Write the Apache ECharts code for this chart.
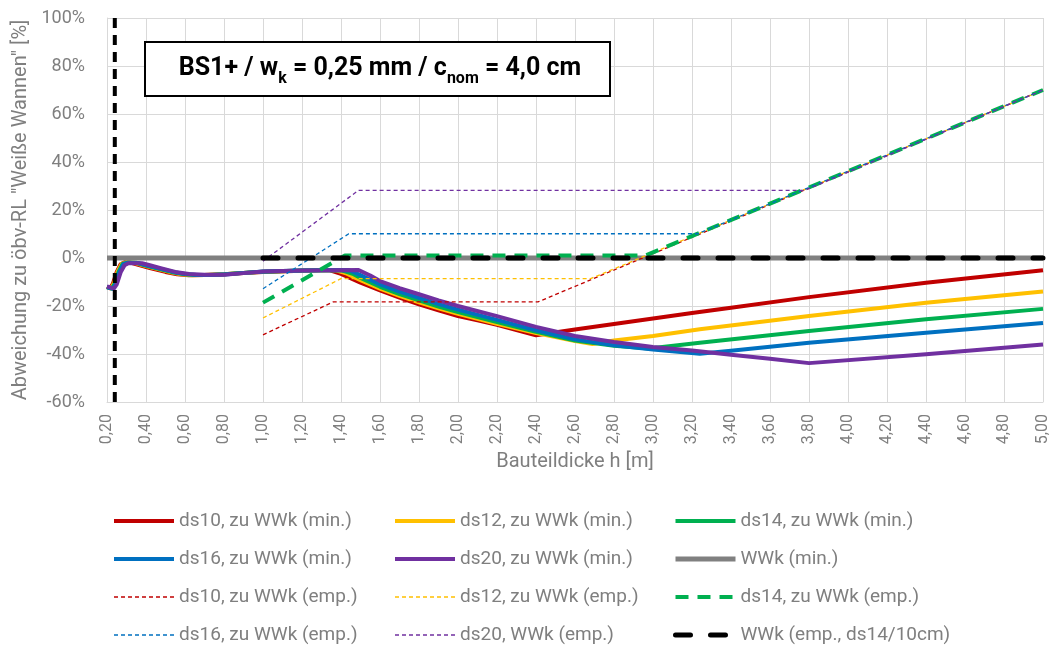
<!DOCTYPE html>
<html>
<head>
<meta charset="utf-8">
<script src="https://cdn.jsdelivr.net/npm/echarts@6/dist/echarts.min.js"></script>
<style>
  html, body { margin: 0; padding: 0; background: #ffffff; }
  #chart { width: 1052px; height: 648px; }
</style>
</head>
<body>
<div id="chart"></div>
<script>
// Axis ticks: Bauteildicke h [m] and deviation [%]
const xTicks = [0.2, 0.4, 0.6, 0.8, 1.0, 1.2, 1.4, 1.6, 1.8, 2.0, 2.2, 2.4, 2.6, 2.8, 3.0, 3.2, 3.4, 3.6, 3.8, 4.0, 4.2, 4.4, 4.6, 4.8, 5.0];
const yTicks = [-60, -40, -20, 0, 20, 40, 60, 80, 100];

// Minimum reinforcement, deviation to WWk [%] as [h, value]
const ds10Min = [[0.20,-12.0],[0.215,-12.6],[0.23,-10.8],[0.25,-5.8],[0.27,-2.6],[0.29,-1.8],[0.32,-1.9],[0.36,-2.8],[0.42,-4.2],[0.50,-5.8],[0.56,-6.8],[0.62,-7.2],[0.70,-7.1],[0.80,-6.8],[0.90,-6.3],[1.00,-5.8],[1.20,-5.3],[1.34,-5.0],[1.40,-6.6],[1.50,-10.3],[1.60,-13.5],[1.70,-16.5],[1.80,-19.3],[1.90,-21.8],[2.00,-24.2],[2.10,-26.0],[2.20,-27.8],[2.30,-30.0],[2.40,-32.2],[2.60,-29.8],[2.80,-27.5],[3.00,-25.2],[3.20,-22.9],[3.40,-20.7],[3.80,-16.3],[4.40,-10.3],[5.00,-5.1]];
const ds12Min = [[0.20,-12.1],[0.22,-12.7],[0.235,-10.6],[0.255,-5.6],[0.275,-2.5],[0.30,-1.8],[0.34,-2.0],[0.38,-2.9],[0.44,-4.2],[0.52,-5.8],[0.58,-6.8],[0.64,-7.2],[0.70,-7.1],[0.80,-6.8],[0.90,-6.2],[1.00,-5.7],[1.20,-5.2],[1.37,-5.0],[1.43,-6.5],[1.50,-9.2],[1.60,-12.8],[1.70,-15.8],[1.80,-18.5],[1.90,-21.0],[2.00,-23.3],[2.20,-27.4],[2.40,-31.3],[2.60,-34.6],[2.69,-35.8],[2.80,-34.4],[3.00,-32.5],[3.24,-29.7],[3.80,-24.2],[4.40,-18.6],[5.00,-14.0]];
const ds14Min = [[0.20,-12.1],[0.225,-12.7],[0.24,-10.6],[0.26,-5.6],[0.28,-2.5],[0.305,-1.9],[0.35,-2.0],[0.39,-2.9],[0.45,-4.2],[0.53,-5.8],[0.59,-6.7],[0.65,-7.1],[0.72,-7.1],[0.80,-6.8],[0.90,-6.2],[1.00,-5.7],[1.20,-5.2],[1.40,-5.0],[1.46,-6.6],[1.50,-8.3],[1.60,-12.0],[1.70,-15.0],[1.80,-17.6],[1.90,-20.2],[2.00,-22.5],[2.20,-26.7],[2.40,-30.8],[2.60,-34.4],[2.80,-36.6],[2.98,-37.7],[3.24,-35.3],[3.80,-30.4],[4.40,-25.5],[5.00,-21.2]];
const ds16Min = [[0.20,-12.2],[0.23,-12.8],[0.245,-10.6],[0.265,-5.6],[0.285,-2.5],[0.31,-2.0],[0.36,-2.1],[0.40,-3.0],[0.46,-4.2],[0.54,-5.8],[0.60,-6.7],[0.66,-7.1],[0.74,-7.1],[0.82,-6.8],[0.90,-6.2],[1.00,-5.6],[1.20,-5.2],[1.44,-5.0],[1.50,-7.1],[1.60,-11.0],[1.70,-14.0],[1.80,-16.6],[1.90,-19.2],[2.00,-21.5],[2.20,-25.8],[2.40,-30.1],[2.60,-33.9],[2.80,-36.4],[3.00,-38.1],[3.24,-39.9],[3.40,-38.6],[3.80,-35.3],[4.40,-31.1],[5.00,-27.1]];
const ds20Min = [[0.20,-11.8],[0.235,-12.8],[0.25,-11.0],[0.27,-6.0],[0.29,-3.0],[0.31,-2.2],[0.38,-2.2],[0.42,-3.0],[0.48,-4.3],[0.55,-5.8],[0.62,-6.7],[0.70,-7.0],[0.80,-7.0],[0.90,-6.3],[1.00,-5.6],[1.20,-5.2],[1.49,-5.0],[1.55,-7.3],[1.60,-9.6],[1.70,-12.6],[1.80,-15.1],[1.90,-17.7],[2.00,-20.0],[2.20,-24.2],[2.40,-28.7],[2.60,-32.5],[2.80,-35.0],[3.00,-37.1],[3.20,-38.5],[3.40,-40.3],[3.60,-42.0],[3.80,-43.8],[4.40,-40.1],[5.00,-36.0]];
const wwkMin = [[0.20, 0],[5.00, 0]];

// Empirical approach, deviation to WWk [%]
const ds10Emp = [[1.00,-32.0],[1.36,-18.3],[2.41,-18.3],[5.00,70.0]];
const ds12Emp = [[1.00,-25.0],[1.40,-8.6],[2.68,-8.6],[5.00,70.0]];
const ds14Emp = [[1.00,-18.6],[1.42,1.0],[2.96,1.0],[5.00,70.0]];
const ds16Emp = [[1.00,-12.8],[1.44,10.1],[3.23,10.1],[5.00,70.0]];
const ds20Emp = [[1.00,-1.3],[1.49,28.2],[3.78,28.2],[5.00,70.0]];
const wwkEmp = [[1.00, 0],[5.00, 0]];
const wwkEmpLimit = [[0.24, 100],[0.24, -60]];

const FONT = 'Roboto, "Noto Sans", sans-serif';
const GREY_TEXT = '#7f7f7f';

const chart = echarts.init(document.getElementById('chart'), null, { renderer: 'canvas' });

function solid(name, data, color, width) {
  return { name, type: 'line', data, symbol: 'none', showSymbol: false, silent: true,
    lineStyle: { color, width, type: 'solid', cap: 'butt', join: 'round' }, itemStyle: { color } };
}
function dashed(name, data, color, width, dash, cap) {
  return { name, type: 'line', data, symbol: 'none', showSymbol: false, silent: true,
    lineStyle: { color, width, type: dash, cap: cap || 'butt' }, itemStyle: { color } };
}
// legend entry with its own line thickness; the marker symbol is hidden
function entry(name, width) {
  return { name, lineStyle: { width }, itemStyle: { opacity: 0 } };
}

const legendBase = {
  orient: 'vertical', top: 511, padding: 0, itemWidth: 60, itemHeight: 14, itemGap: 18,
  selectedMode: false, itemStyle: { opacity: 0 },
  textStyle: { color: GREY_TEXT, fontSize: 19, fontFamily: FONT, lineHeight: 20 }
};

const option = {
  animation: false,
  backgroundColor: '#ffffff',
  grid: { left: 107, right: 9, top: 18, bottom: 246, containLabel: false },
  xAxis: {
    type: 'value', min: xTicks[0], max: xTicks[xTicks.length - 1], interval: xTicks[1] - xTicks[0],
    name: 'Bauteildicke h [m]', nameLocation: 'middle', nameGap: 50,
    nameTextStyle: { color: GREY_TEXT, fontSize: 20, fontFamily: FONT },
    axisLine: { show: true, onZero: false, lineStyle: { color: '#d9d9d9', width: 1 } },
    axisTick: { show: false },
    axisLabel: { rotate: 90, margin: 12, color: GREY_TEXT, fontSize: 16, fontFamily: FONT,
      formatter: v => v.toFixed(2).replace('.', ',') },
    splitLine: { show: true, lineStyle: { color: '#d9d9d9', width: 1 } }
  },
  yAxis: {
    type: 'value', min: yTicks[0], max: yTicks[yTicks.length - 1], interval: yTicks[1] - yTicks[0],
    name: 'Abweichung zu öbv-RL "Weiße Wannen" [%]', nameLocation: 'middle', nameGap: 76,
    nameTextStyle: { color: GREY_TEXT, fontSize: 20, fontFamily: FONT },
    axisLine: { show: true, lineStyle: { color: '#d9d9d9', width: 1 } },
    axisTick: { show: false },
    axisLabel: { margin: 22, color: GREY_TEXT, fontSize: 18, fontFamily: FONT, formatter: v => v + '%' },
    splitLine: { show: true, lineStyle: { color: '#d9d9d9', width: 1 } }
  },
  legend: [
    Object.assign({}, legendBase, { left: 112, data: [
      entry('ds10, zu WWk (min.)', 4), entry('ds16, zu WWk (min.)', 4),
      entry('ds10, zu WWk (emp.)', 1.5), entry('ds16, zu WWk (emp.)', 1.5)] }),
    Object.assign({}, legendBase, { left: 393, data: [
      entry('ds12, zu WWk (min.)', 4), entry('ds20, zu WWk (min.)', 4),
      entry('ds12, zu WWk (emp.)', 1.5), entry('ds20, WWk (emp.)', 1.5)] }),
    Object.assign({}, legendBase, { left: 673, data: [
      entry('ds14, zu WWk (min.)', 4), entry('WWk (min.)', 5),
      entry('ds14, zu WWk (emp.)', 4), entry('WWk (emp., ds14/10cm)', 5)] })
  ],
  series: [
    solid('ds10, zu WWk (min.)', ds10Min, '#c00000', 4),
    solid('ds12, zu WWk (min.)', ds12Min, '#ffc000', 4),
    solid('ds14, zu WWk (min.)', ds14Min, '#00b050', 4),
    solid('ds16, zu WWk (min.)', ds16Min, '#0070c0', 4),
    solid('ds20, zu WWk (min.)', ds20Min, '#7030a0', 4),
    solid('WWk (min.)', wwkMin, '#808080', 5),
    dashed('ds10, zu WWk (emp.)', ds10Emp, '#c00000', 1.3, [4, 3]),
    dashed('ds12, zu WWk (emp.)', ds12Emp, '#ffc000', 1.3, [4, 3]),
    dashed('ds14, zu WWk (emp.)', ds14Emp, '#00b050', 4, [13, 9]),
    dashed('ds16, zu WWk (emp.)', ds16Emp, '#0070c0', 1.3, [4, 3]),
    dashed('ds20, WWk (emp.)', ds20Emp, '#7030a0', 1.3, [4, 3]),
    dashed('WWk (emp., ds14/10cm)', wwkEmp, '#000000', 5, [15, 20], 'round'),
    dashed('WWk (emp., ds14/10cm)', wwkEmpLimit, '#000000', 4, [10, 7])
  ],
  graphic: [
    { type: 'rect', z: 100, shape: { x: 145, y: 42, width: 465, height: 54 },
      style: { fill: '#ffffff', stroke: '#000000', lineWidth: 2 } },
    { type: 'text', z: 101, x: 380, y: 69,
      style: {
        text: '{b|BS1+ / w}{s|k}{b| = 0,25 mm / c}{s|nom}{b| = 4,0 cm}',
        align: 'center', verticalAlign: 'middle',
        rich: {
          b: { fontSize: 25, fontWeight: 'bold', fontFamily: FONT, fill: '#000', lineHeight: 36 },
          s: { fontSize: 16, fontWeight: 'bold', fontFamily: FONT, fill: '#000', lineHeight: 15, verticalAlign: 'bottom' }
        }
      } }
  ]
};

chart.setOption(option);
</script>
</body>
</html>
